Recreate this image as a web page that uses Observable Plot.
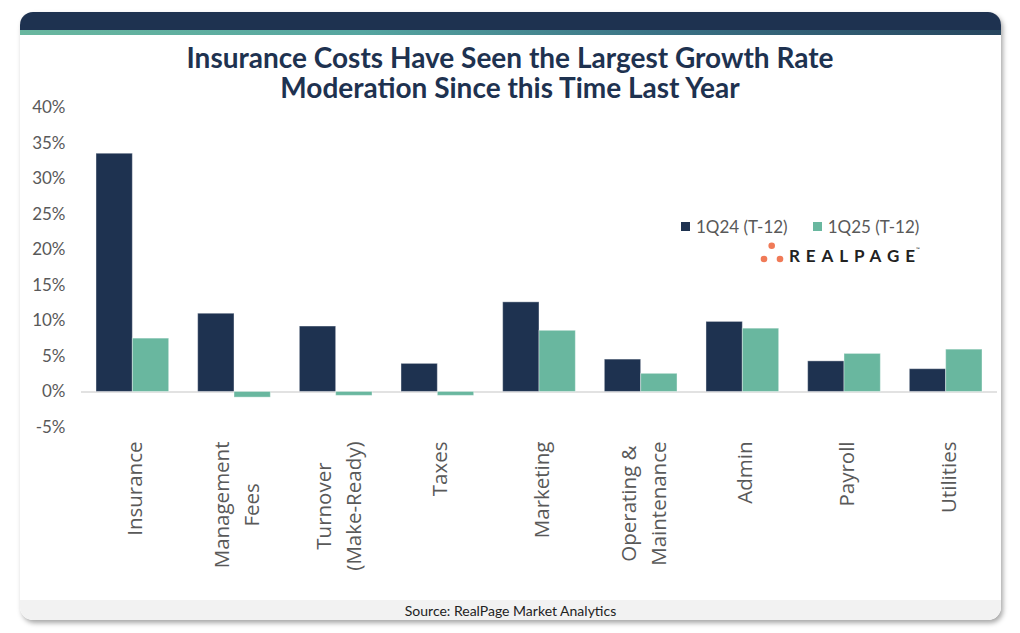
<!DOCTYPE html>
<html><head><meta charset="utf-8">
<script src="https://cdn.jsdelivr.net/npm/d3@7"></script>
<script src="https://cdn.jsdelivr.net/npm/@observablehq/plot@0.6"></script>
<style>
body{margin:0;background:#fff;}
#page{position:relative;width:1020px;height:633px;overflow:hidden;font-family:Lato,sans-serif;}
#card{position:absolute;left:20px;top:12px;width:981px;height:608px;background:#fff;border-radius:13px;box-shadow:2px 3px 5px rgba(0,0,0,.35);overflow:hidden;}
#band{position:absolute;left:0;top:0;width:100%;height:18px;background:#1e3250;}
#stripe{position:absolute;left:0;top:18px;width:100%;height:5px;background:linear-gradient(90deg,#69b79f 0%,#55a5a0 35%,#3a7285 65%,#26455e 100%);}
#footer{position:absolute;left:0;bottom:0;width:100%;height:20px;background:#f2f2f2;text-align:center;font-size:14px;line-height:21px;color:#222;}
.tl{position:absolute;left:0;width:1020px;text-align:center;font-weight:700;font-size:28px;line-height:28px;color:#1e3250;white-space:nowrap;}
#chart{position:absolute;left:0;top:96px;}
#legend{position:absolute;left:681px;top:216px;height:20px;display:flex;align-items:center;font-size:17px;color:#595959;white-space:nowrap;}
.sw{display:inline-block;width:9px;height:9px;margin-right:6px;}
.item{display:flex;align-items:center;margin-right:25px;}
#logo{position:absolute;left:760px;top:240px;}
</style></head>
<body>
<div id="page">
  <div id="card">
    <div id="band"></div>
    <div id="stripe"></div>
    <div id="footer">Source: RealPage Market Analytics</div>
  </div>
  <div class="tl" style="top:43px">Insurance Costs Have Seen the Largest Growth Rate</div>
  <div class="tl" style="top:73px">Moderation Since this Time Last Year</div>
  <div id="chart"></div>
  <div id="legend"></div>
  <svg id="logo" width="170" height="26">
    <circle cx="11.7" cy="5.7" r="3.3" fill="#f07a57"/>
    <circle cx="4" cy="19" r="3.3" fill="#f07a57"/>
    <circle cx="20" cy="19" r="3.3" fill="#f07a57"/>
    <text x="29" y="21.7" font-family="Lato" font-weight="700" font-size="17" fill="#222" textLength="126" lengthAdjust="spacing">REALPAGE</text>
    <text x="156" y="11" font-family="Lato" font-size="5" fill="#222">™</text>
  </svg>
</div>
<script>
const categories = ["Insurance","Management\nFees","Turnover\n(Make-Ready)","Taxes","Marketing","Operating &\nMaintenance","Admin","Payroll","Utilities"];
const series = ["1Q24 (T-12)","1Q25 (T-12)"];
const values1Q24 = [33.5, 11.0, 9.2, 3.95, 12.6, 4.55, 9.85, 4.3, 3.2];
const values1Q25 = [7.5, -0.8, -0.55, -0.55, 8.6, 2.55, 8.9, 5.35, 5.95];
const yTicks = [-5, 0, 5, 10, 15, 20, 25, 30, 35, 40];
const colors = ["#1e3250", "#69b79f"];

const data = categories.flatMap((c, i) => [
  {category: c, series: series[0], value: values1Q24[i]},
  {category: c, series: series[1], value: values1Q25[i]}
]);

const W = 1020, ML = 81, MR = 23;
const padIn = 0.285, padOut = 0.1475;
const step = (W - ML - MR) / (categories.length - padIn + 2 * padOut);
const half = step * (1 - padIn) / 2;

const barOpts = {x: "category", y: "value", fill: "series", stroke: "#ffffff", strokeOpacity: 0.4, strokeWidth: 1};

// category labels: rotated, each line centred, block's longest line starting just below the frame
const labelFont = 20.5, labelFamily = "Open Sans", labelPad = 14;
const ctx = document.createElement("canvas").getContext("2d");
ctx.font = `${labelFont}px '${labelFamily}'`;
const labelMarks = categories.map(c => {
  const maxW = Math.max(...c.split("\n").map(s => ctx.measureText(s).width));
  return Plot.text([c], {
    x: d => d, frameAnchor: "bottom", rotate: -90,
    textAnchor: "middle", lineAnchor: "middle", lineHeight: 1.45,
    dy: labelPad + maxW / 2,
    fontSize: labelFont, fontFamily: labelFamily, fill: "#595959"
  });
});

const chart = Plot.plot({
  width: W, height: 494,
  marginLeft: ML, marginRight: MR, marginTop: 11, marginBottom: 163,
  style: {fontFamily: "Lato", background: "transparent"},
  x: {domain: categories, paddingInner: padIn, paddingOuter: padOut, round: false, axis: null, label: null},
  y: {domain: [-5, 40], axis: null},
  color: {domain: series, range: colors},
  marks: [
    Plot.ruleY([0], {stroke: "#d9d9d9", strokeWidth: 1.5}),
    Plot.barY(data.filter(d => d.series === series[0]), {...barOpts, insetRight: half}),
    Plot.barY(data.filter(d => d.series === series[1]), {...barOpts, insetLeft: half}),
    Plot.axisY({ticks: yTicks, tickFormat: d => d + "%", tickSize: 0, tickPadding: 16, fontSize: 17, fontFamily: "Lato", fill: "#595959", label: null}),
    ...labelMarks
  ]
});
document.getElementById("chart").appendChild(chart);

const legend = document.getElementById("legend");
series.forEach((s, i) => {
  const it = document.createElement("span");
  it.className = "item";
  it.innerHTML = `<span class="sw" style="background:${colors[i]}"></span>${s}`;
  legend.appendChild(it);
});
</script>
</body></html>
